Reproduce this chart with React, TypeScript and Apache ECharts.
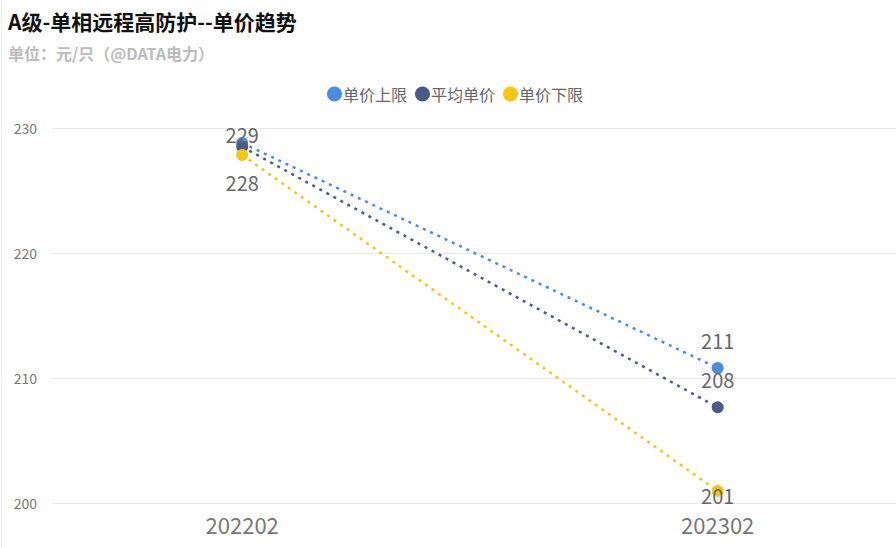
import React, { useEffect, useRef } from "react";
import * as echarts from "echarts";

const categories = ["202202", "202302"];
const seriesNames = ["单价上限", "平均单价", "单价下限"];
const upperValues = [228.8, 210.8];
const avgValues = [228.5, 207.65];
const lowerValues = [227.84, 200.96];
const yTicks = [200, 210, 220, 230];

const FONT = "'Noto Sans CJK SC', 'Noto Sans', sans-serif";
const colors = ["#4A8DDC", "#4A5B88", "#F2C811"];

export default function App() {
  const ref = useRef<HTMLDivElement>(null);
  useEffect(() => {
    if (!ref.current) return;
    const chart = echarts.init(ref.current, null, { renderer: "svg" });
    const fmt = (p: any) => String(Math.round(p.value[1]));
    const baseLabel = {
      show: true,
      formatter: fmt,
      fontSize: 20,
      color: "#666",
      fontFamily: FONT,
    };
    const lineStyleFor = (c: string) => ({ color: c, width: 2.5, type: [3, 5] as any });

    const upperData = upperValues.map((v, i) => ({
      value: [i, v],
      label: { ...baseLabel, position: "top", distance: 10, offset: i === 0 ? [0, 17] : [0, -2] },
    }));
    const avgData = avgValues.map((v, i) => ({
      value: [i, v],
      label: { ...baseLabel, show: i !== 0, position: "top", distance: 10, offset: [0, -2] },
    }));
    const lowerData = lowerValues.map((v, i) => ({
      value: [i, v],
      label: { ...baseLabel, position: "bottom", distance: 12, offset: i === 1 ? [0, -24] : [0, -1] },
    }));

    chart.setOption({
      animation: false,
      backgroundColor: "#fff",
      color: colors,
      title: {
        left: 3,
        top: 5,
        text: "A级-单相远程高防护--单价趋势",
        subtext: "单位：元/只（@DATA电力）",
        itemGap: 14,
        textStyle: { fontSize: 21, fontWeight: "bold", color: "#111", fontFamily: FONT },
        subtextStyle: { fontSize: 16, fontWeight: "bold", color: "#bbb", fontFamily: FONT },
      },
      legend: {
        left: 322,
        top: 81,
        icon: "circle",
        itemWidth: 15,
        itemHeight: 15,
        itemGap: 8,
        textStyle: { fontSize: 16, color: "#666", fontFamily: FONT, padding: [0, 0, 0, -4] },
        data: seriesNames,
      },
      grid: { left: 52, right: 0, top: 128, bottom: 45 },
      xAxis: {
        type: "value",
        min: -0.4,
        max: 1.375,
        axisLine: { show: false },
        axisTick: { show: false },
        splitLine: { show: false },
        axisLabel: {
          customValues: categories.map((_, i) => i),
          formatter: (v: number) => categories[Math.round(v)] ?? "",
          fontSize: 22,
          color: "#777",
          margin: 10,
          fontFamily: FONT,
        },
      },
      yAxis: {
        type: "value",
        min: yTicks[0],
        max: yTicks[yTicks.length - 1],
        interval: 10,
        axisLine: { show: false },
        axisTick: { show: false },
        splitLine: { lineStyle: { color: "#e8e8e8", width: 1 } },
        axisLabel: { fontSize: 14, color: "#777", margin: 15, fontFamily: FONT },
      },
      graphic: [
        { type: "rect", shape: { x: 1, y: 0, width: 1, height: 548 }, style: { fill: "#eeeeee" } },
      ],
      series: [
        {
          name: seriesNames[0],
          type: "line",
          data: upperData,
          symbol: "circle",
          symbolSize: 12,
          lineStyle: lineStyleFor(colors[0]),
          itemStyle: { color: colors[0] },
        },
        {
          name: seriesNames[1],
          type: "line",
          data: avgData,
          symbol: "circle",
          symbolSize: 12,
          lineStyle: lineStyleFor(colors[1]),
          itemStyle: { color: colors[1] },
        },
        {
          name: seriesNames[2],
          type: "line",
          data: lowerData,
          symbol: "circle",
          symbolSize: 12,
          lineStyle: lineStyleFor(colors[2]),
          itemStyle: { color: colors[2] },
        },
      ],
    });
    return () => chart.dispose();
  }, []);
  return (
    <div
      ref={ref}
      style={{ position: "absolute", left: 0, top: 0, width: 896, height: 548, background: "#fff" }}
    />
  );
}
